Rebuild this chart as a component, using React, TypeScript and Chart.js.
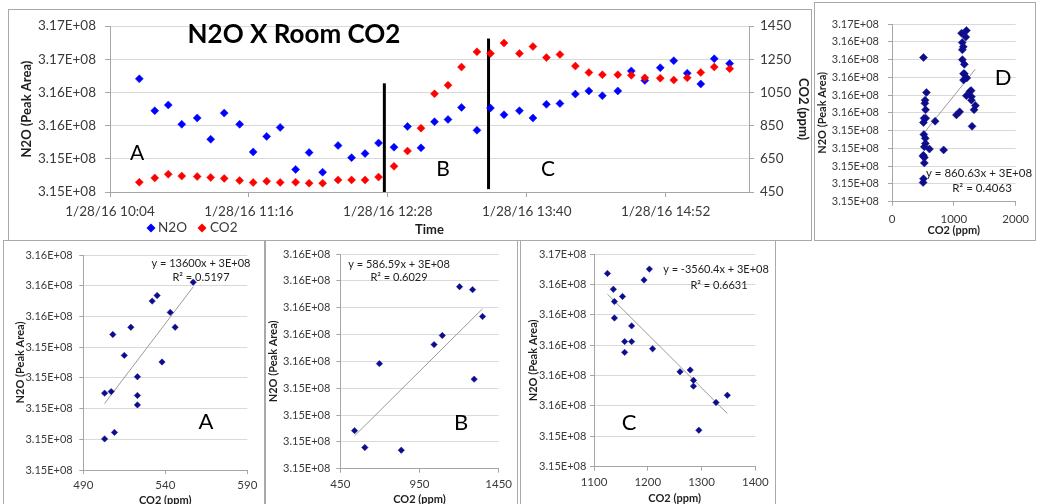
import React, { useEffect, useRef } from "react";
import { Chart, registerables } from "chart.js";

Chart.register(...registerables);

// ---------------- data ----------------
const times = [
  "10:20", "10:28", "10:35", "10:42", "10:50", "10:57", "11:04", "11:12", "11:19", "11:26",
  "11:33", "11:41", "11:48", "11:55", "12:03", "12:10", "12:17", "12:24", "12:32", "12:39",
  "12:46", "12:53", "13:00", "13:07", "13:15", "13:22", "13:29", "13:37", "13:44", "13:51",
  "13:58", "14:06", "14:13", "14:20", "14:28", "14:35", "14:42", "14:50", "14:57", "15:04",
  "15:11", "15:18", "15:26",
];

const n2oPeakArea = [
  316505000, 316025000, 316111000, 315820000, 315916000, 315595000, 315989000, 315820000, 315404000, 315638000,
  315773000, 315140000, 315394000, 315098000, 315500000, 315318000, 315379000, 315538000, 315475000, 315788000,
  315465000, 315859000, 315893000, 316075000, 315730000, 316064000, 315964000, 316025000, 315916000, 316121000,
  316133000, 316275000, 316323000, 316251000, 316323000, 316625000, 316481000, 316673000, 316779000, 316591000,
  316428000, 316808000, 316735000,
];

const co2Ppm = [
  509, 535, 557, 546, 543, 538, 532, 519, 507, 515,
  508, 509, 503, 503, 523, 523, 523, 540, 605, 697,
  835, 1042, 1094, 1203, 1295, 1285, 1348, 1285, 1327, 1260,
  1279, 1209, 1170, 1157, 1157, 1153, 1138, 1136, 1125, 1138,
  1170, 1203, 1193,
];

const dividerTimes = ["12:27", "13:21"];
const dividerTop = [316437500, 317112500];
const dividerBottom = [314800000, 314843000];

const timeTickLabels = ["1/28/16 10:04", "1/28/16 11:16", "1/28/16 12:28", "1/28/16 13:40", "1/28/16 14:52"];
const timeTickMinutes = [604.8, 676.8, 748.8, 820.8, 892.8];
const timeAxisRange = [604.8, 936];

const n2oRangeMain = [314800000, 317300000];
const n2oTickLabelsMain = ["3.15E+08", "3.15E+08", "3.16E+08", "3.16E+08", "3.17E+08", "3.17E+08"];
const co2TicksMain = [450, 650, 850, 1050, 1250, 1450];

// period slices (start index inclusive, end exclusive)
const periodA = [1, 17];
const periodB = [17, 27];
const periodC = [24, 43];
const periodD = [0, 43];

const xTicksA = [490, 540, 590];
const xTicksB = [450, 950, 1450];
const xTicksC = [1100, 1200, 1300, 1400];
const xTicksD = [0, 1000, 2000];

const yRangeA = [314897000, 316287000];
const yRangeB = [315396000, 316197000];
const yRangeC = [315486000, 316909000];
const yRangeD = [314882000, 316882000];

const yLabelsA = ["3.15E+08", "3.15E+08", "3.15E+08", "3.15E+08", "3.15E+08", "3.16E+08", "3.16E+08", "3.16E+08"];
const yLabelsB = ["3.15E+08", "3.15E+08", "3.15E+08", "3.15E+08", "3.16E+08", "3.16E+08", "3.16E+08", "3.16E+08", "3.16E+08"];
const yLabelsC = ["3.15E+08", "3.15E+08", "3.16E+08", "3.16E+08", "3.16E+08", "3.16E+08", "3.16E+08", "3.17E+08"];
const yLabelsD = ["3.15E+08", "3.15E+08", "3.15E+08", "3.15E+08", "3.15E+08", "3.16E+08", "3.16E+08", "3.16E+08", "3.16E+08", "3.16E+08", "3.17E+08"];

const equations = ["y = 13600x + 3E+08", "y = 586.59x + 3E+08", "y = -3560.4x + 3E+08", "y = 860.63x + 3E+08"];
const rSquared = ["R² = 0.5197", "R² = 0.6029", "R² = 0.6631", "R² = 0.4063"];

// ---------------- styles ----------------
const FONT = "Lato, 'Liberation Sans', Arial, sans-serif";
const TEXT = "#3a3a3a";
const TITLE = "#1e1e1e";
const GRID = "#d9d9d9";
const AXIS = "#a6a6a6";
const BOX = "#a9a9a9";
const BLUE = "#0000ff";
const RED = "#ff0000";
const NAVY = "#0d0d8c";
const TREND = "#9a9a9a";

function toMinutes(t: string) {
  const [h, m] = t.split(":").map(Number);
  return h * 60 + m;
}

function linearFit(xs: number[], ys: number[]) {
  const n = xs.length;
  const mx = xs.reduce((a, b) => a + b, 0) / n;
  const my = ys.reduce((a, b) => a + b, 0) / n;
  let sxx = 0;
  let sxy = 0;
  for (let i = 0; i < n; i++) {
    sxx += (xs[i] - mx) * (xs[i] - mx);
    sxy += (xs[i] - mx) * (ys[i] - my);
  }
  const slope = sxy / sxx;
  return { slope, intercept: my - slope * mx };
}

function evenTicks(min: number, max: number, n: number) {
  const out: number[] = [];
  for (let i = 0; i < n; i++) out.push(min + ((max - min) * i) / (n - 1));
  return out;
}

type Txt = { text: string; x: number; y: number; font: string; color?: string; align?: CanvasTextAlign };

function textPlugin(items: Txt[]) {
  return {
    id: "texts",
    afterDraw(chart: any) {
      const ctx = chart.ctx as CanvasRenderingContext2D;
      ctx.save();
      for (const t of items) {
        ctx.font = t.font;
        ctx.fillStyle = t.color || "#000";
        ctx.textAlign = t.align || "center";
        ctx.textBaseline = "middle";
        ctx.fillText(t.text, t.x, t.y);
      }
      ctx.restore();
    },
  };
}

function diamond(ctx: CanvasRenderingContext2D, x: number, y: number, r: number, color: string) {
  ctx.beginPath();
  ctx.moveTo(x - r, y);
  ctx.lineTo(x, y - r);
  ctx.lineTo(x + r, y);
  ctx.lineTo(x, y + r);
  ctx.closePath();
  ctx.fillStyle = color;
  ctx.fill();
}

function legendPlugin(pos: { x: number; y: number; gap: number }[]) {
  return {
    id: "mainLegend",
    afterDraw(chart: any) {
      const ctx = chart.ctx as CanvasRenderingContext2D;
      const items = chart.data.datasets.filter((d: any) => d.label === "N2O" || d.label === "CO2");
      items.sort((a: any) => (a.label === "N2O" ? -1 : 1));
      ctx.save();
      items.forEach((d: any, i: number) => {
        const p = pos[i];
        diamond(ctx, p.x, p.y, 4.5, d.backgroundColor);
        ctx.font = `13.5px ${FONT}`;
        ctx.fillStyle = TEXT;
        ctx.textAlign = "left";
        ctx.textBaseline = "middle";
        ctx.fillText(d.label, p.x + p.gap, p.y);
      });
      ctx.restore();
    },
  };
}

// ---------------- main chart ----------------
function buildMain() {
  const n2oPts = times.map((t, i) => ({ x: toMinutes(t), y: n2oPeakArea[i] }));
  const co2Pts = times.map((t, i) => ({ x: toMinutes(t), y: co2Ppm[i] }));
  const dividers = dividerTimes.map((t, i) => ({
    label: "divider",
    data: [
      { x: toMinutes(t), y: dividerBottom[i] },
      { x: toMinutes(t), y: dividerTop[i] },
    ],
    showLine: true,
    borderColor: "#000",
    borderWidth: 3,
    pointRadius: 0,
    yAxisID: "y",
    order: 3,
  }));
  const yVals = evenTicks(n2oRangeMain[0], n2oRangeMain[1], n2oTickLabelsMain.length);
  return {
    type: "scatter",
    data: {
      datasets: [
        {
          label: "N2O",
          data: n2oPts,
          yAxisID: "y",
          pointStyle: "rectRot",
          pointRadius: 4,
          borderWidth: 0.5,
          backgroundColor: BLUE,
          borderColor: BLUE,
          order: 2,
        },
        {
          label: "CO2",
          data: co2Pts,
          yAxisID: "y1",
          pointStyle: "rectRot",
          pointRadius: 4,
          borderWidth: 0.5,
          backgroundColor: RED,
          borderColor: RED,
          order: 1,
        },
        ...dividers,
      ],
    },
    options: {
      responsive: false,
      animation: false,
      events: [],
      layout: { padding: { top: 9, left: 0, right: 0, bottom: 0 } },
      plugins: { legend: { display: false }, tooltip: { enabled: false } },
      scales: {
        x: {
          type: "linear",
          min: timeAxisRange[0],
          max: timeAxisRange[1],
          afterBuildTicks: (s: any) => {
            s.ticks = timeTickMinutes.map((v) => ({ value: v }));
          },
          afterFit: (s: any) => {
            s.height = 49;
          },
          ticks: {
            callback: (_v: any, i: number) => timeTickLabels[i],
            font: { family: FONT, size: 13.5 },
            color: TEXT,
            padding: 7,
            maxRotation: 0,
            autoSkip: false,
          },
          grid: { drawOnChartArea: false, tickLength: 5, tickColor: AXIS },
          border: { color: AXIS },
          title: {
            display: true,
            text: "Time",
            font: { family: FONT, size: 13, weight: "bold" },
            color: TITLE,
            padding: { top: 0, bottom: 3 },
          },
        },
        y: {
          position: "left",
          min: n2oRangeMain[0],
          max: n2oRangeMain[1],
          afterBuildTicks: (s: any) => {
            s.ticks = yVals.map((v) => ({ value: v }));
          },
          afterFit: (s: any) => {
            s.width = 102;
          },
          ticks: {
            callback: (_v: any, i: number) => n2oTickLabelsMain[i],
            font: { family: FONT, size: 13.5 },
            color: TEXT,
            padding: 9,
          },
          grid: { color: GRID, tickLength: 5, tickColor: AXIS },
          border: { color: AXIS },
          title: {
            display: true,
            text: "N2O (Peak Area)",
            font: { family: FONT, size: 13, weight: "bold" },
            color: TITLE,
            padding: { top: 11, bottom: 0 },
          },
        },
        y1: {
          position: "right",
          min: co2TicksMain[0],
          max: co2TicksMain[co2TicksMain.length - 1],
          afterBuildTicks: (s: any) => {
            s.ticks = co2TicksMain.map((v) => ({ value: v }));
          },
          afterFit: (s: any) => {
            s.width = 63;
          },
          ticks: {
            callback: (v: any) => String(v),
            font: { family: FONT, size: 13.5 },
            color: TEXT,
            padding: 6,
          },
          grid: { drawOnChartArea: false, tickLength: 5, tickColor: AXIS },
          border: { color: AXIS },
          title: {
            display: true,
            text: "CO2 (ppm)",
            font: { family: FONT, size: 13, weight: "bold" },
            color: TITLE,
            padding: { top: 1, bottom: 0 },
          },
        },
      },
    },
    plugins: [
      textPlugin([
        { text: "N2O X Room CO2", x: 286, y: 26, font: `bold 26px ${FONT}` },
        { text: "A", x: 129, y: 144, font: `21px ${FONT}` },
        { text: "B", x: 435, y: 160, font: `21px ${FONT}` },
        { text: "C", x: 540, y: 160, font: `21px ${FONT}` },
      ]),
      legendPlugin([
        { x: 143, y: 219, gap: 7 },
        { x: 194, y: 219, gap: 8 },
      ]),
    ],
  };
}

// ---------------- panel charts ----------------
type PanelLayout = {
  top: number;
  right: number;
  yWidth: number;
  xHeight: number;
  yTitlePad: number;
  xTitlePad: number;
  yTickPad: number;
  xTickPad: number;
  r: number;
  eqFont: number;
  eq: [number, number];
  r2: [number, number];
  letter: [number, number];
};

function buildPanel(
  period: number[],
  xTicks: number[],
  yRange: number[],
  yLabels: string[],
  letter: string,
  eq: string,
  r2: string,
  L: PanelLayout
) {
  const xs = co2Ppm.slice(period[0], period[1]);
  const ys = n2oPeakArea.slice(period[0], period[1]);
  const fit = linearFit(xs, ys);
  const lo = Math.min(...xs);
  const hi = Math.max(...xs);
  const yVals = evenTicks(yRange[0], yRange[1], yLabels.length);
  return {
    type: "scatter",
    data: {
      datasets: [
        {
          label: "N2O",
          data: xs.map((x, i) => ({ x, y: ys[i] })),
          pointStyle: "rectRot",
          pointRadius: L.r,
          borderWidth: 0.5,
          backgroundColor: NAVY,
          borderColor: NAVY,
          order: 0,
        },
        {
          label: "Linear",
          data: [
            { x: lo, y: fit.intercept + fit.slope * lo },
            { x: hi, y: fit.intercept + fit.slope * hi },
          ],
          showLine: true,
          borderColor: TREND,
          borderWidth: 1,
          pointRadius: 0,
          order: 1,
        },
      ],
    },
    options: {
      responsive: false,
      animation: false,
      events: [],
      layout: { padding: { top: L.top, right: L.right, left: 0, bottom: 0 } },
      plugins: { legend: { display: false }, tooltip: { enabled: false } },
      scales: {
        x: {
          type: "linear",
          min: xTicks[0],
          max: xTicks[xTicks.length - 1],
          afterBuildTicks: (s: any) => {
            s.ticks = xTicks.map((v) => ({ value: v }));
          },
          afterFit: (s: any) => {
            s.height = L.xHeight;
          },
          ticks: {
            callback: (v: any) => String(v),
            font: { family: FONT, size: 11.5 },
            color: TEXT,
            padding: L.xTickPad,
            maxRotation: 0,
            autoSkip: false,
          },
          grid: { drawOnChartArea: false, tickLength: 4, tickColor: AXIS },
          border: { color: AXIS },
          title: {
            display: true,
            text: "CO2 (ppm)",
            font: { family: FONT, size: 11, weight: "bold" },
            color: TITLE,
            padding: { top: 0, bottom: L.xTitlePad },
          },
        },
        y: {
          min: yRange[0],
          max: yRange[1],
          afterBuildTicks: (s: any) => {
            s.ticks = yVals.map((v) => ({ value: v }));
          },
          afterFit: (s: any) => {
            s.width = L.yWidth;
          },
          ticks: {
            callback: (_v: any, i: number) => yLabels[i],
            font: { family: FONT, size: 11 },
            color: TEXT,
            padding: L.yTickPad,
          },
          grid: { color: GRID, tickLength: 4, tickColor: AXIS },
          border: { color: AXIS },
          title: {
            display: true,
            text: "N2O (Peak Area)",
            font: { family: FONT, size: 11, weight: "bold" },
            color: TITLE,
            padding: { top: L.yTitlePad, bottom: 0 },
          },
        },
      },
    },
    plugins: [
      textPlugin([
        { text: eq, x: L.eq[0], y: L.eq[1], font: `${L.eqFont}px ${FONT}`, color: "#222" },
        { text: r2, x: L.r2[0], y: L.r2[1], font: `${L.eqFont}px ${FONT}`, color: "#222" },
        { text: letter, x: L.letter[0], y: L.letter[1], font: `22px ${FONT}` },
      ]),
    ],
  };
}

function ChartBox(props: { left: number; top: number; width: number; height: number; build: () => any }) {
  const { left, top, width, height, build } = props;
  const ref = useRef<HTMLCanvasElement | null>(null);
  useEffect(() => {
    const chart = new Chart(ref.current as HTMLCanvasElement, build());
    return () => chart.destroy();
  }, []);
  return (
    <div style={{ position: "absolute", left, top, width, height, background: "#fff" }}>
      <canvas ref={ref} width={width} height={height} style={{ display: "block", width, height }} />
      <div
        style={{
          position: "absolute",
          left: 0,
          top: 0,
          width,
          height,
          boxSizing: "border-box",
          border: `1px solid ${BOX}`,
          pointerEvents: "none",
        }}
      />
    </div>
  );
}

export default function App() {
  return (
    <div
      style={{
        position: "fixed",
        left: 0,
        top: 0,
        width: 1038,
        height: 504,
        overflow: "hidden",
        background: "#fff",
      }}
    >
      <ChartBox left={8} top={9} width={804} height={232} build={buildMain} />
      <ChartBox
        left={814}
        top={2}
        width={222}
        height={239}
        build={() =>
          buildPanel(periodD, xTicksD, yRangeD, yLabelsD, "D", equations[3], rSquared[3], {
            top: 22, right: 17, yWidth: 78, xHeight: 39.3, yTitlePad: 1.4, xTitlePad: 4.4,
            yTickPad: 9, xTickPad: 7, r: 4, eqFont: 11.5,
            eq: [165, 171], r2: [168, 186], letter: [189, 76],
          })
        }
      />
      <ChartBox
        left={3}
        top={240}
        width={262}
        height={270}
        build={() =>
          buildPanel(periodA, xTicksA, yRangeA, yLabelsA, "A", equations[0], rSquared[0], {
            top: 15, right: 17.7, yWidth: 80.3, xHeight: 40, yTitlePad: 10.4, xTitlePad: 3.4,
            yTickPad: 6.6, xTickPad: 4, r: 3.2, eqFont: 11,
            eq: [198, 23], r2: [198, 37], letter: [203, 182],
          })
        }
      />
      <ChartBox
        left={265}
        top={240}
        width={253}
        height={270}
        build={() =>
          buildPanel(periodB, xTicksB, yRangeB, yLabelsB, "B", equations[1], rSquared[1], {
            top: 14, right: 19.3, yWidth: 75.3, xHeight: 41.3, yTitlePad: 2.1, xTitlePad: 4.4,
            yTickPad: 6, xTickPad: 5, r: 3.2, eqFont: 11,
            eq: [134, 24], r2: [134, 37], letter: [196, 183],
          })
        }
      />
      <ChartBox
        left={520}
        top={240}
        width={256}
        height={270}
        build={() =>
          buildPanel(periodC, xTicksC, yRangeC, yLabelsC, "C", equations[2], rSquared[2], {
            top: 14, right: 20.7, yWidth: 74, xHeight: 43.3, yTitlePad: 6.4, xTitlePad: 5.4,
            yTickPad: 3.7, xTickPad: 4.5, r: 3.2, eqFont: 11,
            eq: [196, 29], r2: [199, 45], letter: [109, 183],
          })
        }
      />
    </div>
  );
}
